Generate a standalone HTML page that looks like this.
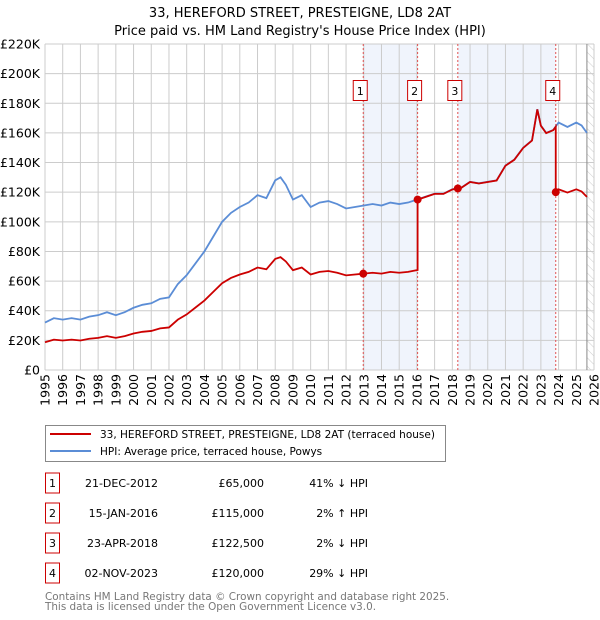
<!DOCTYPE html>
<html><head><meta charset="utf-8"><style>
body{margin:0;background:#fff;font-family:"DejaVu Sans","Liberation Sans",sans-serif;}
svg{display:block}
</style></head><body>
<svg id="c" width="600" height="620" xmlns="http://www.w3.org/2000/svg" font-family="DejaVu Sans, Liberation Sans, sans-serif">
<text x="300" y="17" text-anchor="middle" font-size="13">33, HEREFORD STREET, PRESTEIGNE, LD8 2AT</text>
<text x="300" y="35" text-anchor="middle" font-size="13">Price paid vs. HM Land Registry's House Price Index (HPI)</text>
<g id="plot"></g>
<g>
<rect x="45.5" y="425.5" width="400" height="36" fill="#fff" stroke="#888"/>
<line x1="50" y1="434" x2="91" y2="434" stroke="#cc0000" stroke-width="2"/>
<text x="100" y="438" font-size="10.5">33, HEREFORD STREET, PRESTEIGNE, LD8 2AT (terraced house)</text>
<line x1="50" y1="451" x2="91" y2="451" stroke="#5b8dd6" stroke-width="2"/>
<text x="100" y="455" font-size="10.5">HPI: Average price, terraced house, Powys</text>
</g>
<g id="table" font-size="11"></g>
<text x="45" y="600" font-size="10.4" fill="#777">Contains HM Land Registry data © Crown copyright and database right 2025.</text>
<text x="45" y="610" font-size="10.4" fill="#777">This data is licensed under the Open Government Licence v3.0.</text>
</svg>
<script>
const hpiYears=[1995,1995.5,1996,1996.5,1997,1997.5,1998,1998.5,1999,1999.5,2000,2000.5,2001,2001.5,2002,2002.5,2003,2003.5,2004,2004.5,2005,2005.5,2006,2006.5,2007,2007.5,2008,2008.3,2008.6,2009,2009.5,2010,2010.5,2011,2011.5,2012,2012.5,2013,2013.5,2014,2014.5,2015,2015.5,2016,2016.5,2017,2017.5,2018,2018.5,2019,2019.5,2020,2020.5,2021,2021.5,2022,2022.5,2022.8,2023,2023.3,2023.7,2024,2024.5,2025,2025.3,2025.6];
const hpiValues=[32,35,34,35,34,36,37,39,37,39,42,44,45,48,49,58,64,72,80,90,100,106,110,113,118,116,128,130,125,115,118,110,113,114,112,109,110,111,112,111,113,112,113,115,117,119,119,122,123,127,126,127,128,138,142,150,155,176,165,160,162,167,164,167,165,160];
const saleLabels=["1","2","3","4"];
const saleDates=[2012.97,2016.04,2018.31,2023.84];
const salePrices=[65,115,122.5,120];
const saleDateText=["21-DEC-2012","15-JAN-2016","23-APR-2018","02-NOV-2023"];
const salePriceText=["£65,000","£115,000","£122,500","£120,000"];
const saleHpiText=["41% ↓ HPI","2% ↑ HPI","2% ↓ HPI","29% ↓ HPI"];
const yTicks=[0,20,40,60,80,100,120,140,160,180,200,220];
const xTicks=[1995,1996,1997,1998,1999,2000,2001,2002,2003,2004,2005,2006,2007,2008,2009,2010,2011,2012,2013,2014,2015,2016,2017,2018,2019,2020,2021,2022,2023,2024,2025,2026];

const NS="http://www.w3.org/2000/svg";
const X0=45,X1=594,Y0=370,Y1=44;
const xs=t=>X0+(t-1995)/(2026-1995)*(X1-X0);
const ys=v=>Y0-v/220*(Y0-Y1);
function el(tag,attrs,parent){const e=document.createElementNS(NS,tag);for(const k in attrs)e.setAttribute(k,attrs[k]);parent.appendChild(e);return e;}
const plot=document.getElementById('plot');
function hpiAt(t){for(let i=0;i<hpiYears.length-1;i++){if(t>=hpiYears[i]&&t<=hpiYears[i+1]){const f=(t-hpiYears[i])/(hpiYears[i+1]-hpiYears[i]);return hpiValues[i]+f*(hpiValues[i+1]-hpiValues[i]);}}return hpiValues[hpiValues.length-1];}

for(const [a,b] of [[0,1],[2,3]]){
 const r=el('rect',{x:xs(saleDates[a]),y:Y1,width:xs(saleDates[b])-xs(saleDates[a]),height:Y0-Y1,fill:'#f0f4fc'},plot);
 
 
}
const defs=el('defs',{},plot);
const pat=el('pattern',{id:'h',width:6,height:6,patternUnits:'userSpaceOnUse',patternTransform:'rotate(-45)'},defs);
el('line',{x1:0,y1:0,x2:0,y2:6,stroke:'#ccc','stroke-width':1},pat);
const hr=el('rect',{x:xs(2025.6),y:Y1,width:X1-xs(2025.6),height:Y0-Y1,fill:'url(#h)'},plot);


yTicks.forEach(v=>{
 const l=el('line',{x1:X0,x2:X1,y1:ys(v),y2:ys(v),stroke:'#ccc'},plot);
 
 
 const t=el('text',{x:40,y:ys(v)+4.5,'text-anchor':'end','font-size':12.5},plot);
 t.textContent=v===0?'£0':'£'+v+'K';
 
 
});
xTicks.forEach(y=>{
 const l=el('line',{x1:xs(y),x2:xs(y),y1:Y1,y2:Y0,stroke:'#ccc'},plot);
 
 
 const t=el('text',{x:0,y:0,'text-anchor':'end','font-size':12.5,transform:`translate(${xs(y)+4.5},374) rotate(-90)`},plot);
 t.textContent=y;
 
 
});
el('line',{x1:xs(2025.6),x2:xs(2025.6),y1:Y1,y2:Y0,stroke:'#888'},plot);
saleDates.forEach(d=>{
 const l=el('line',{x1:xs(d),x2:xs(d),y1:Y1,y2:Y0,stroke:'#e05050','stroke-dasharray':'2,2','stroke-width':1},plot);
 
 
});
const hp=el('polyline',{points:hpiYears.map((t,i)=>xs(t)+','+ys(hpiValues[i])).join(' '),fill:'none',stroke:'#5b8dd6','stroke-width':1.8},plot);


const pts=[];const tGrid=hpiYears.concat(saleDates).sort((a,b)=>a-b);
tGrid.forEach(t=>{
 let k=0;for(let i=0;i<saleDates.length;i++)if(t>=saleDates[i])k=i;
 const v=salePrices[k]*hpiAt(t)/hpiAt(saleDates[k]);
 if(saleDates.includes(t)&&saleDates.indexOf(t)>0){const p=saleDates.indexOf(t)-1;pts.push(xs(t)+','+ys(salePrices[p]*hpiAt(t)/hpiAt(saleDates[p])));}
 pts.push(xs(t)+','+ys(v));
});
const rp=el('polyline',{points:pts.join(' '),fill:'none',stroke:'#cc0000','stroke-width':1.8},plot);


saleDates.forEach((d,i)=>{
 const c=el('circle',{cx:xs(d),cy:ys(salePrices[i]),r:4,fill:'#cc0000'},plot);
 
 
 const bx=xs(d)-10;
 const r=el('rect',{x:bx,y:80.5,width:14,height:20,fill:'#fff',stroke:'#cc0000'},plot);
 
 
 const t=el('text',{x:bx+7,y:95,'text-anchor':'middle','font-size':11},plot);
 t.textContent=saleLabels[i];
 
 
});
const tb=document.getElementById('table');
saleLabels.forEach((s,i)=>{
 const cy=483+i*30;
 const r=el('rect',{x:45.5,y:cy-10,width:14,height:20,fill:'#fff',stroke:'#cc0000'},tb);
 
 
 const a=el('text',{x:52.5,y:cy+4,'text-anchor':'middle'},tb);a.textContent=s;
 
 
 const b=el('text',{x:158,y:cy+4,'text-anchor':'end'},tb);b.textContent=saleDateText[i];
 
 
 const c=el('text',{x:264,y:cy+4,'text-anchor':'end'},tb);c.textContent=salePriceText[i];
 
 
 const d=el('text',{x:368,y:cy+4,'text-anchor':'end'},tb);d.textContent=saleHpiText[i];
 
 
});
</script>
</body></html>
